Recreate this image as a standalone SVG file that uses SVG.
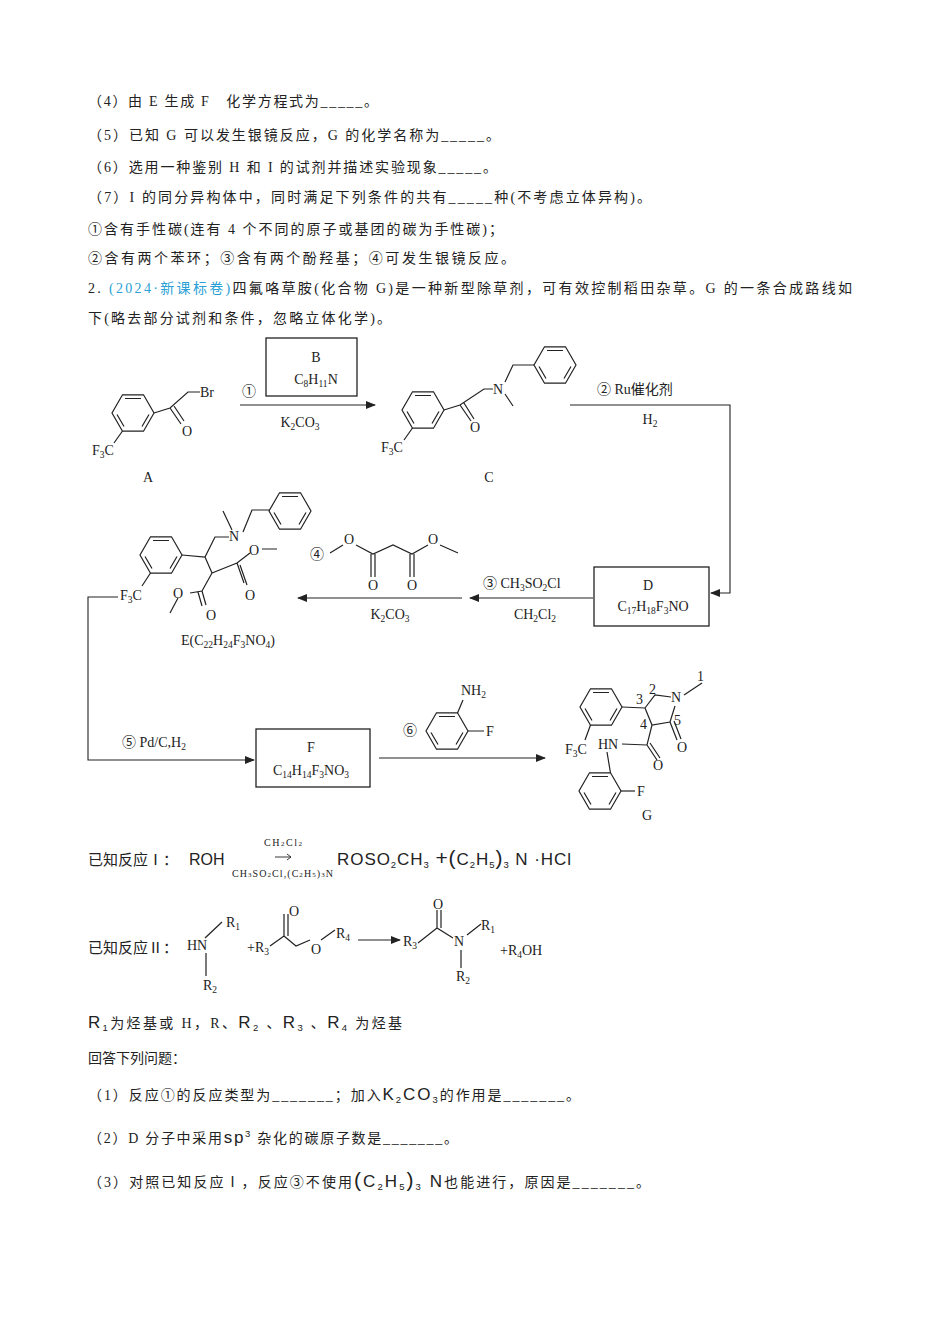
<svg xmlns="http://www.w3.org/2000/svg" xmlns:xlink="http://www.w3.org/1999/xlink" width="950" height="1344" viewBox="0 0 950 1344">
<style>
text{font-family:"Liberation Serif","Noto Sans CJK SC",serif;font-size:14px;fill:#222}
.cn{font-family:"Liberation Serif","Noto Sans CJK SC",serif;font-size:15px}
.s{font-size:9.5px;baseline-shift:-3px}
.u{font-size:9.5px;baseline-shift:6px}
.bl{fill:#2a9fd6}
.m{text-anchor:middle}
.b{stroke:#222;stroke-width:1.2;fill:none}
.bx{stroke:#222;stroke-width:1.3;fill:none}
.ar{stroke:#222;stroke-width:1.1;fill:none;marker-end:url(#ah)}
.sf{font-family:"Liberation Sans",sans-serif;font-size:17px}
</style>
<defs>
<marker id="ah" markerWidth="10" markerHeight="8" refX="9" refY="4" orient="auto" markerUnits="userSpaceOnUse"><path d="M0,0 L10,4 L0,8 z" fill="#222"/></marker>
<g id="bzF" class="b"><path d="M21,0 L10.5,18.2 L-10.5,18.2 L-21,0 L-10.5,-18.2 L10.5,-18.2 Z"/><path d="M-8,-14.5 L8,-14.5 M16,1.5 L9,13.5 M-9,13.5 L-16,1.5"/></g>
</defs>
<g id="text-top" class="cn">
<text x="88" y="106" textLength="290">（4）由 E 生成 F　化学方程式为_____。</text>
<text x="88" y="140" textLength="412">（5）已知 G 可以发生银镜反应，G 的化学名称为_____。</text>
<text x="88" y="172" textLength="409">（6）选用一种鉴别 H 和 I 的试剂并描述实验现象_____。</text>
<text x="88" y="202" textLength="563">（7）I 的同分异构体中，同时满足下列条件的共有_____种(不考虑立体异构)。</text>
<text x="88" y="234" textLength="415">①含有手性碳(连有 4 个不同的原子或基团的碳为手性碳)；</text>
<text x="88" y="263" textLength="427">②含有两个苯环；③含有两个酚羟基；④可发生银镜反应。</text>
<text x="88" y="293" textLength="764">2. <tspan class="bl">(2024·新课标卷)</tspan>四氟咯草胺(化合物 G)是一种新型除草剂，可有效控制稻田杂草。G 的一条合成路线如</text>
<text x="88" y="323" textLength="303">下(略去部分试剂和条件，忽略立体化学)。</text>
</g>
<g id="A">
<use href="#bzF" x="133" y="413"/>
<path class="b" d="M154,413 L170,408 L188,392 L200,392 M170,408 L181,424 M174,406 L184,421 M122.5,431 L114,443"/>
<text x="200" y="397">Br</text><text x="182" y="436">O</text>
<text x="92" y="455">F<tspan class="s">3</tspan>C</text>
<text x="148" y="482" class="m">A</text>
</g>
<g id="B"><rect class="bx" x="266" y="338" width="91" height="58"/>
<text x="316" y="362" class="m">B</text><text x="316" y="384" class="m">C<tspan class="s">8</tspan>H<tspan class="s">11</tspan>N</text></g>
<g id="C">
<use href="#bzF" x="423" y="410"/>
<path class="b" d="M444,410 L460,405 L484,389 L493,389 M460,405 L471,421 M464,403 L474,419 M505,394 L513,406 M505,382 L513,365 L534,365 M412.5,428 L404,440"/>
<use href="#bzF" x="555" y="365"/>
<text x="493" y="394">N</text><text x="470" y="432">O</text>
<text x="381" y="452">F<tspan class="s">3</tspan>C</text>
<text x="489" y="482" class="m">C</text>
</g>
<g id="D"><rect class="bx" x="594" y="567" width="115" height="59"/>
<text x="648" y="590" class="m">D</text><text x="653" y="611" class="m">C<tspan class="s">17</tspan>H<tspan class="s">18</tspan>F<tspan class="s">3</tspan>NO</text></g>
<g id="malonate">
<text x="310" y="559">④</text>
<path class="b" d="M330,553 L343,545 M356,545 L373,554 L393,545 L412,554 L428,545 M440,545 L458,553 M371,554 L371,577 M375,554 L375,577 M410,554 L410,577 M414,554 L414,577"/>
<text x="344" y="544">O</text><text x="428" y="544">O</text>
<text x="368" y="590">O</text><text x="407" y="590">O</text>
</g>
<g id="E">
<use href="#bzF" x="161" y="555"/>
<path class="b" d="M182,555 L205,557 L215,537 L229,537 M232,530 L223,511 M243,532 L252,510 L270,510 M205,557 L212,573 L237,563 L250,553 M262,549 L277,549 M237,563 L244,583 M240,565 L247,585 M212,573 L202,591 L190,593 M202,591 L206,605 M198,592 L202,606 M178,598 L170,613 M150.5,573 L142,586"/>
<use href="#bzF" x="290" y="511"/>
<text x="229" y="541">N</text><text x="249" y="555">O</text><text x="245" y="600">O</text>
<text x="173" y="598">O</text><text x="206" y="620">O</text>
<text x="120" y="600">F<tspan class="s">3</tspan>C</text>
<text x="228" y="645" class="m">E(C<tspan class="s">22</tspan>H<tspan class="s">24</tspan>F<tspan class="s">3</tspan>NO<tspan class="s">4</tspan>)</text>
</g>
<g id="F"><rect class="bx" x="256" y="729" width="114" height="58"/>
<text x="311" y="752" class="m">F</text><text x="311" y="775" class="m">C<tspan class="s">14</tspan>H<tspan class="s">14</tspan>F<tspan class="s">3</tspan>NO<tspan class="s">3</tspan></text></g>
<g id="aniline">
<text x="403" y="735">⑥</text>
<use href="#bzF" x="447" y="731"/>
<path class="b" d="M457.5,713 L463,700 M468,731 L484,731"/>
<text x="461" y="695">NH<tspan class="s">2</tspan></text><text x="486" y="736">F</text>
</g>
<g id="G">
<use href="#bzF" x="601" y="707"/>
<path class="b" d="M622,707 L645,708 L655,695 L671,697 M684,695 L702,683 M645,708 L652,725 L670,722 L675,706 M670,722 L677,740 M674,721 L681,739 M652,725 L647,745 L622,744 M647,745 L657,760 M650,743 L660,758 M607,752 L610.5,773 M590.5,725 L585,740"/>
<use href="#bzF" x="600" y="791"/>
<path class="b" d="M621,791 L635,791"/>
<text x="671" y="702">N</text><text x="697" y="681">1</text><text x="649" y="694">2</text><text x="636" y="704">3</text><text x="640" y="729">4</text><text x="674" y="725">5</text>
<text x="677" y="752">O</text><text x="653" y="770">O</text>
<text x="598" y="749">HN</text><text x="637" y="796">F</text>
<text x="565" y="754">F<tspan class="s">3</tspan>C</text>
<text x="647" y="820" class="m">G</text>
</g>
<g id="connectors">
<path class="ar" d="M240,405 L375,405"/>
<text x="242" y="396">①</text><text x="300" y="427" class="m">K<tspan class="s">2</tspan>CO<tspan class="s">3</tspan></text>
<path class="ar" d="M570,405 L730,405 L730,593 L711,593"/>
<text x="597" y="394">② Ru催化剂</text><text x="650" y="424" class="m">H<tspan class="s">2</tspan></text>
<path class="ar" d="M593,598 L470,598"/>
<text x="483" y="588">③ CH<tspan class="s">3</tspan>SO<tspan class="s">2</tspan>Cl</text><text x="535" y="619" class="m">CH<tspan class="s">2</tspan>Cl<tspan class="s">2</tspan></text>
<path class="ar" d="M462,598 L298,598"/>
<text x="390" y="619" class="m">K<tspan class="s">2</tspan>CO<tspan class="s">3</tspan></text>
<path class="ar" d="M118,597 L88,597 L88,760 L254,760"/>
<text x="122" y="747">⑤ Pd/C,H<tspan class="s">2</tspan></text>
<path class="ar" d="M379,758 L545,758"/>
</g>
<g id="known1">
<text x="88" y="865" class="cn">已知反应Ⅰ：</text>
<text x="189" y="865" style="font-family:'Liberation Sans',sans-serif;font-size:16px">ROH</text>
<text x="264" y="846" style="font-size:10px" textLength="38">CH<tspan style="font-size:7px">2</tspan>Cl<tspan style="font-size:7px">2</tspan></text>
<path class="b" d="M275,857 L291,857 M287,854 L291,857 L287,860" style="stroke-width:0.9"/>
<text x="232" y="877" style="font-size:10px" textLength="101">CH<tspan style="font-size:7px">3</tspan>SO<tspan style="font-size:7px">2</tspan>Cl,(C<tspan style="font-size:7px">2</tspan>H<tspan style="font-size:7px">5</tspan>)<tspan style="font-size:7px">3</tspan>N</text>
<text x="337" y="865" style="font-family:'Liberation Sans',sans-serif;font-size:17px" textLength="234">ROSO<tspan class="s">2</tspan>CH<tspan class="s">3</tspan> <tspan font-size="21">+(</tspan>C<tspan class="s">2</tspan>H<tspan class="s">5</tspan><tspan font-size="21">)</tspan><tspan class="s">3</tspan> N ·HCl</text>
</g>
<g id="known2">
<text x="88" y="953" class="cn">已知反应Ⅱ：</text>
<text x="187" y="950">HN</text>
<path class="b" d="M205,938 L222,922 M206,953 L206,976 M270,946 L284,936 L296,946 L310,940 M321,940 L335,930 M284,936 L284,914 M288,936 L288,914 M418,943 L437,928 L453,938 M437,928 L437,910 M441,928 L441,910 M467,935 L481,924 M461,950 L461,968"/>
<text x="226" y="927">R<tspan class="s">1</tspan></text><text x="203" y="990">R<tspan class="s">2</tspan></text>
<text x="247" y="952">+R<tspan class="s">3</tspan></text>
<text x="289" y="916">O</text><text x="311" y="954">O</text><text x="336" y="938">R<tspan class="s">4</tspan></text>
<path class="ar" d="M358,940 L400,940"/>
<text x="403" y="946">R<tspan class="s">3</tspan></text><text x="433" y="909">O</text><text x="454" y="946">N</text>
<text x="481" y="930">R<tspan class="s">1</tspan></text><text x="456" y="981">R<tspan class="s">2</tspan></text>
<text x="500" y="955">+R<tspan class="s">4</tspan>OH</text>
</g>
<g id="text-bottom" class="cn">
<text x="88" y="1028" textLength="314"><tspan class="sf">R<tspan class="s">1</tspan></tspan>为烃基或 H，R、<tspan class="sf">R<tspan class="s">2</tspan></tspan> 、<tspan class="sf">R<tspan class="s">3</tspan></tspan> 、<tspan class="sf">R<tspan class="s">4</tspan></tspan> 为烃基</text>
<text x="88" y="1063">回答下列问题：</text>
<text x="88" y="1100" textLength="492">（1）反应①的反应类型为_______；加入<tspan class="sf">K<tspan class="s">2</tspan>CO<tspan class="s">3</tspan></tspan>的作用是_______。</text>
<text x="88" y="1143" textLength="370">（2）D 分子中采用<tspan class="sf">sp<tspan class="u">3</tspan></tspan> 杂化的碳原子数是_______。</text>
<text x="88" y="1187" textLength="562">（3）对照已知反应Ⅰ，反应③不使用<tspan class="sf"><tspan font-size="21">(</tspan>C<tspan class="s">2</tspan>H<tspan class="s">5</tspan><tspan font-size="21">)</tspan><tspan class="s">3</tspan> N</tspan>也能进行，原因是_______。</text>
</g>
</svg>
